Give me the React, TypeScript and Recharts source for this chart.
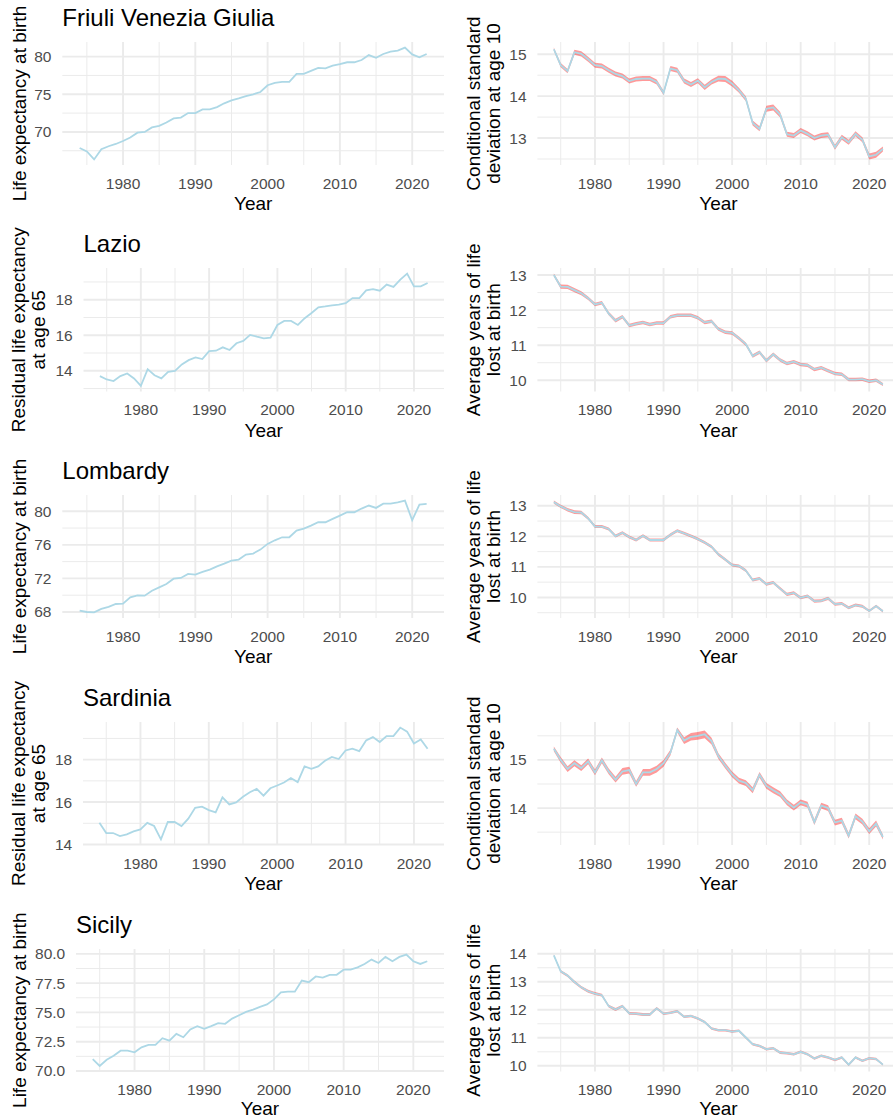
import React from 'react';
import { ComposedChart, Line, Area, XAxis, YAxis, CartesianGrid } from 'recharts';

// Calendar years shared by every panel
const years = [
  1974, 1975, 1976, 1977, 1978, 1979, 1980, 1981, 1982, 1983,
  1984, 1985, 1986, 1987, 1988, 1989, 1990, 1991, 1992, 1993,
  1994, 1995, 1996, 1997, 1998, 1999, 2000, 2001, 2002, 2003,
  2004, 2005, 2006, 2007, 2008, 2009, 2010, 2011, 2012, 2013,
  2014, 2015, 2016, 2017, 2018, 2019, 2020, 2021, 2022,
];

const regionNames = ['Friuli Venezia Giulia', 'Lazio', 'Lombardy', 'Sardinia', 'Sicily'];

// Friuli Venezia Giulia
const friuliLifeExp = [
  67.87, 67.4, 66.35, 67.7, 68.1, 68.4, 68.8, 69.25, 69.9, 70.0,
  70.6, 70.8, 71.25, 71.8, 71.9, 72.5, 72.5, 73.0, 73.0, 73.3,
  73.8, 74.2, 74.45, 74.75, 75.0, 75.3, 76.2, 76.5, 76.65, 76.65,
  77.7, 77.7, 78.1, 78.5, 78.45, 78.8, 79.0, 79.25, 79.25, 79.55,
  80.2, 79.85, 80.35, 80.65, 80.8, 81.2, 80.3, 79.9, 80.35,
];
const friuliCondSd = [
  15.12, 14.74, 14.6, 15.05, 15.01, 14.88, 14.74, 14.72, 14.62, 14.53,
  14.48, 14.36, 14.41, 14.42, 14.42, 14.34, 14.08, 14.66, 14.62, 14.36,
  14.28, 14.37, 14.21, 14.34, 14.42, 14.41, 14.3, 14.14, 13.94, 13.36,
  13.22, 13.7, 13.73, 13.56, 13.09, 13.06, 13.18, 13.1, 13.0, 13.06,
  13.08, 12.78, 13.02, 12.9, 13.1, 12.96, 12.56, 12.6, 12.74,
];
const friuliCondSdHalfWidth = [
  0.04, 0.05, 0.05, 0.06, 0.06, 0.06, 0.06, 0.06, 0.06, 0.06,
  0.06, 0.06, 0.06, 0.06, 0.06, 0.06, 0.05, 0.06, 0.06, 0.06,
  0.06, 0.06, 0.06, 0.06, 0.07, 0.07, 0.07, 0.06, 0.06, 0.06,
  0.06, 0.07, 0.07, 0.07, 0.06, 0.06, 0.06, 0.06, 0.06, 0.06,
  0.06, 0.06, 0.06, 0.06, 0.06, 0.06, 0.07, 0.07, 0.06,
];

// Lazio
const lazioResidual65 = [
  13.7, 13.51, 13.42, 13.7, 13.85, 13.57, 13.15, 14.09, 13.75, 13.57,
  13.94, 14.0, 14.36, 14.6, 14.75, 14.66, 15.11, 15.13, 15.32, 15.17,
  15.55, 15.68, 16.02, 15.92, 15.83, 15.87, 16.58, 16.81, 16.81, 16.58,
  16.96, 17.25, 17.57, 17.62, 17.68, 17.72, 17.81, 18.09, 18.09, 18.53,
  18.6, 18.51, 18.85, 18.72, 19.13, 19.47, 18.75, 18.75, 18.94,
];
const lazioYearsLost = [
  13.0, 12.67, 12.66, 12.57, 12.48, 12.34, 12.16, 12.21, 11.9, 11.7,
  11.81, 11.56, 11.61, 11.65, 11.59, 11.63, 11.63, 11.81, 11.85, 11.85,
  11.85, 11.78, 11.65, 11.68, 11.46, 11.37, 11.35, 11.2, 11.03, 10.69,
  10.8, 10.56, 10.74, 10.58, 10.48, 10.53, 10.45, 10.43, 10.31, 10.36,
  10.27, 10.19, 10.17, 10.02, 10.02, 10.03, 9.97, 10.0, 9.88,
];
const lazioYearsLostHalfWidth = [
  0.04, 0.06, 0.06, 0.06, 0.06, 0.05, 0.05, 0.05, 0.05, 0.05,
  0.05, 0.05, 0.05, 0.05, 0.05, 0.05, 0.05, 0.05, 0.05, 0.05,
  0.05, 0.05, 0.05, 0.05, 0.05, 0.05, 0.05, 0.05, 0.05, 0.05,
  0.05, 0.05, 0.05, 0.05, 0.05, 0.05, 0.05, 0.05, 0.05, 0.05,
  0.05, 0.05, 0.05, 0.05, 0.05, 0.05, 0.05, 0.05, 0.04,
];

// Lombardy
const lombardyLifeExp = [
  68.16, 68.0, 67.95, 68.36, 68.6, 68.95, 69.0, 69.75, 69.99, 69.95,
  70.54, 70.94, 71.34, 71.97, 72.05, 72.53, 72.45, 72.77, 73.05, 73.44,
  73.76, 74.12, 74.24, 74.84, 74.96, 75.43, 76.11, 76.54, 76.9, 76.9,
  77.7, 77.93, 78.29, 78.69, 78.69, 79.09, 79.48, 79.88, 79.88, 80.32,
  80.68, 80.4, 80.91, 80.91, 81.07, 81.27, 78.93, 80.79, 80.87,
];
const lombardyYearsLost = [
  13.12, 12.98, 12.87, 12.79, 12.78, 12.59, 12.32, 12.32, 12.24, 12.01,
  12.12, 11.98, 11.88, 12.02, 11.88, 11.88, 11.88, 12.05, 12.18, 12.1,
  12.01, 11.91, 11.8, 11.66, 11.41, 11.24, 11.06, 11.03, 10.88, 10.57,
  10.62, 10.43, 10.49, 10.29, 10.1, 10.15, 9.99, 10.05, 9.88, 9.89,
  9.97, 9.78, 9.8, 9.66, 9.75, 9.71, 9.56, 9.72, 9.55,
];
const lombardyYearsLostHalfWidth = [
  0.05, 0.05, 0.06, 0.06, 0.06, 0.05, 0.05, 0.05, 0.05, 0.05,
  0.05, 0.05, 0.05, 0.05, 0.05, 0.05, 0.05, 0.05, 0.05, 0.05,
  0.05, 0.05, 0.05, 0.05, 0.05, 0.05, 0.05, 0.05, 0.05, 0.05,
  0.05, 0.05, 0.05, 0.05, 0.05, 0.05, 0.05, 0.05, 0.05, 0.05,
  0.05, 0.05, 0.05, 0.05, 0.05, 0.05, 0.04, 0.04, 0.04,
];

// Sardinia
const sardiniaResidual65 = [
  15.02, 14.54, 14.54, 14.4, 14.48, 14.62, 14.71, 15.02, 14.87, 14.24,
  15.06, 15.06, 14.87, 15.22, 15.73, 15.78, 15.62, 15.51, 16.22, 15.89,
  15.98, 16.25, 16.46, 16.62, 16.3, 16.65, 16.78, 16.92, 17.13, 16.94,
  17.68, 17.57, 17.68, 17.95, 18.13, 18.03, 18.43, 18.52, 18.4, 18.9,
  19.06, 18.83, 19.11, 19.11, 19.51, 19.32, 18.76, 18.95, 18.51,
];
const sardiniaCondSd = [
  15.23, 15.0, 14.81, 14.93, 14.83, 14.97, 14.74, 14.99, 14.76, 14.59,
  14.76, 14.79, 14.5, 14.74, 14.74, 14.81, 14.93, 15.15, 15.62, 15.4,
  15.48, 15.5, 15.53, 15.39, 15.08, 14.88, 14.7, 14.57, 14.52, 14.37,
  14.69, 14.46, 14.37, 14.29, 14.12, 14.01, 14.12, 14.07, 13.71, 14.05,
  14.0, 13.7, 13.74, 13.43, 13.83, 13.72, 13.52, 13.68, 13.4,
];
const sardiniaCondSdHalfWidth = [
  0.05, 0.06, 0.06, 0.06, 0.06, 0.06, 0.06, 0.06, 0.06, 0.06,
  0.07, 0.07, 0.06, 0.07, 0.07, 0.07, 0.07, 0.06, 0.05, 0.07,
  0.08, 0.08, 0.08, 0.07, 0.06, 0.06, 0.06, 0.06, 0.06, 0.06,
  0.06, 0.06, 0.06, 0.06, 0.06, 0.06, 0.06, 0.06, 0.06, 0.06,
  0.06, 0.06, 0.06, 0.06, 0.06, 0.06, 0.06, 0.06, 0.05,
];

// Sicily
const sicilyLifeExp = [
  71.01, 70.43, 70.95, 71.3, 71.73, 71.73, 71.59, 72.02, 72.22, 72.22,
  72.8, 72.59, 73.17, 72.88, 73.54, 73.83, 73.6, 73.83, 74.09, 74.03,
  74.47, 74.76, 75.04, 75.24, 75.48, 75.68, 76.11, 76.71, 76.77, 76.77,
  77.72, 77.58, 78.07, 77.98, 78.21, 78.21, 78.65, 78.65, 78.85, 79.14,
  79.51, 79.22, 79.74, 79.37, 79.74, 79.94, 79.37, 79.14, 79.37,
];
const sicilyYearsLost = [
  13.94, 13.37, 13.22, 12.99, 12.8, 12.66, 12.58, 12.52, 12.13, 12.01,
  12.13, 11.87, 11.86, 11.83, 11.83, 12.05, 11.86, 11.89, 11.95, 11.75,
  11.78, 11.69, 11.56, 11.33, 11.27, 11.27, 11.22, 11.25, 11.01, 10.77,
  10.71, 10.59, 10.63, 10.47, 10.45, 10.41, 10.5, 10.41, 10.26, 10.36,
  10.3, 10.21, 10.3, 10.04, 10.3, 10.18, 10.27, 10.24, 10.04,
];
const sicilyYearsLostHalfWidth = [
  0.03, 0.05, 0.05, 0.05, 0.05, 0.05, 0.05, 0.05, 0.05, 0.05,
  0.05, 0.05, 0.05, 0.05, 0.05, 0.045, 0.045, 0.045, 0.045, 0.045,
  0.045, 0.045, 0.045, 0.045, 0.045, 0.045, 0.045, 0.045, 0.045, 0.045,
  0.045, 0.045, 0.045, 0.045, 0.045, 0.045, 0.045, 0.045, 0.045, 0.045,
  0.045, 0.045, 0.045, 0.045, 0.045, 0.045, 0.045, 0.045, 0.03,
];

// Axis breaks
const xMajor = [1980, 1990, 2000, 2010, 2020];
const xMinor = [1975, 1985, 1995, 2005, 2015];

const FONT = '"Liberation Sans", Arial, sans-serif';
const GRID = '#EBEBEB';
const LINE_BLUE = '#ADD8E6';

type PanelDef = {
  values: number[];
  halfWidth?: number[];
  yMajor: number[];
  yMinor: number[];
  decimals?: number;
  yTitle: string[];
};

const leftPanels: PanelDef[] = [
  { values: friuliLifeExp, yMajor: [70, 75, 80], yMinor: [67.5, 72.5, 77.5, 82.5], yTitle: ['Life expectancy at birth'] },
  { values: lazioResidual65, yMajor: [14, 16, 18], yMinor: [13, 15, 17, 19], yTitle: ['Residual life expectancy', 'at age 65'] },
  { values: lombardyLifeExp, yMajor: [68, 72, 76, 80], yMinor: [70, 74, 78], yTitle: ['Life expectancy at birth'] },
  { values: sardiniaResidual65, yMajor: [14, 16, 18], yMinor: [15, 17, 19], yTitle: ['Residual life expectancy', 'at age 65'] },
  { values: sicilyLifeExp, yMajor: [70, 72.5, 75, 77.5, 80], yMinor: [71.25, 73.75, 76.25, 78.75], decimals: 1, yTitle: ['Life expectancy at birth'] },
];

const rightPanels: PanelDef[] = [
  { values: friuliCondSd, halfWidth: friuliCondSdHalfWidth, yMajor: [13, 14, 15], yMinor: [12.5, 13.5, 14.5], yTitle: ['Conditional standard', 'deviation at age 10'] },
  { values: lazioYearsLost, halfWidth: lazioYearsLostHalfWidth, yMajor: [10, 11, 12, 13], yMinor: [9.5, 10.5, 11.5, 12.5], yTitle: ['Average years of life', 'lost at birth'] },
  { values: lombardyYearsLost, halfWidth: lombardyYearsLostHalfWidth, yMajor: [10, 11, 12, 13], yMinor: [9.5, 10.5, 11.5, 12.5], yTitle: ['Average years of life', 'lost at birth'] },
  { values: sardiniaCondSd, halfWidth: sardiniaCondSdHalfWidth, yMajor: [14, 15], yMinor: [13.5, 14.5, 15.5], yTitle: ['Conditional standard', 'deviation at age 10'] },
  { values: sicilyYearsLost, halfWidth: sicilyYearsLostHalfWidth, yMajor: [10, 11, 12, 13, 14], yMinor: [10.5, 11.5, 12.5, 13.5], yTitle: ['Average years of life', 'lost at birth'] },
];

// Page geometry of the plotting panels
const rowTop = [42, 268, 495, 722, 949];
const rowBottom = [165, 391.5, 618, 845, 1071.5];
const leftPlotLeft = [62.3, 83.5, 62.3, 83, 76];
const LEFT_PLOT_RIGHT = 444;
const RIGHT_COL_X = 446;
const RIGHT_PLOT_LEFT = 537.4;
const RIGHT_PLOT_RIGHT = 899.4;

const X_DOMAIN: [number, number] = [1971.6, 2024.4];
const MARGIN_TOP = 5;
const X_AXIS_H = 32;

const tickStyle = { fontSize: 15.5, fill: '#4D4D4D', fontFamily: FONT };

function Panel({ def, colX, plotLeft, plotRight, top, bottom }: {
  def: PanelDef; colX: number; plotLeft: number; plotRight: number; top: number; bottom: number;
}) {
  const { values, halfWidth, yMajor, yMinor, decimals } = def;
  const lows = values.map((v, i) => v - (halfWidth ? halfWidth[i] : 0));
  const highs = values.map((v, i) => v + (halfWidth ? halfWidth[i] : 0));
  const lo = Math.min(...lows);
  const hi = Math.max(...highs);
  const pad = (hi - lo) * 0.05;
  const domain: [number, number] = [lo - pad, hi + pad];
  const minorInside = yMinor.filter((v) => v > domain[0] && v < domain[1]);
  const data = years.map((year, i) => ({
    year,
    value: values[i],
    band: halfWidth ? [lows[i], highs[i]] : undefined,
  }));
  const width = plotRight - colX + 2;
  const height = MARGIN_TOP + (bottom - top) + X_AXIS_H;
  return (
    <div style={{ position: 'absolute', left: colX, top: top - MARGIN_TOP, width, height }}>
      <ComposedChart width={width} height={height} data={data} margin={{ top: MARGIN_TOP, right: 2, bottom: 0, left: 0 }}>
        <CartesianGrid horizontalValues={minorInside} verticalValues={xMinor} stroke={GRID} strokeWidth={1} />
        <CartesianGrid horizontalValues={yMajor} verticalValues={xMajor} stroke={GRID} strokeWidth={1.9} />
        <XAxis
          type="number"
          dataKey="year"
          domain={X_DOMAIN}
          ticks={xMajor}
          axisLine={false}
          tickLine={false}
          tickSize={0}
          tickMargin={12.5}
          height={X_AXIS_H}
          tick={tickStyle}
          allowDataOverflow
        />
        <YAxis
          type="number"
          domain={domain}
          ticks={yMajor}
          axisLine={false}
          tickLine={false}
          tickSize={0}
          tickMargin={10.8}
          width={plotLeft - colX}
          tick={tickStyle}
          tickFormatter={(v: number) => (decimals ? v.toFixed(decimals) : String(v))}
          allowDataOverflow
        />
        {halfWidth && (
          <Area type="linear" dataKey="band" fill="#FF0000" fillOpacity={0.4} stroke="none" isAnimationActive={false} />
        )}
        <Line type="linear" dataKey="value" stroke={LINE_BLUE} strokeWidth={1.8} dot={false} isAnimationActive={false} />
      </ComposedChart>
    </div>
  );
}

function YTitle({ lines, x, cy, lineGap }: { lines: string[]; x: number; cy: number; lineGap: number }) {
  return (
    <>
      {lines.map((t, i) => {
        const bx = x + i * lineGap;
        return (
          <text key={i} x={bx} y={cy} transform={`rotate(-90 ${bx} ${cy})`} textAnchor="middle" fontSize={19} fill="#000" fontFamily={FONT}>
            {t}
          </text>
        );
      })}
    </>
  );
}

export default function App() {
  return (
    <div style={{ position: 'absolute', left: 0, top: 0, width: 893, height: 1119, overflow: 'hidden', background: '#fff' }}>
      {leftPanels.map((def, r) => (
        <Panel key={`l${r}`} def={def} colX={0} plotLeft={leftPlotLeft[r]} plotRight={LEFT_PLOT_RIGHT} top={rowTop[r]} bottom={rowBottom[r]} />
      ))}
      {rightPanels.map((def, r) => (
        <Panel key={`r${r}`} def={def} colX={RIGHT_COL_X} plotLeft={RIGHT_PLOT_LEFT} plotRight={RIGHT_PLOT_RIGHT} top={rowTop[r]} bottom={rowBottom[r]} />
      ))}
      <svg width={893} height={1119} style={{ position: 'absolute', left: 0, top: 0, pointerEvents: 'none' }}>
        {regionNames.map((name, r) => (
          <text key={`t${r}`} x={leftPlotLeft[r]} y={rowTop[r] - 16} fontSize={24} fill="#000" fontFamily={FONT}>
            {name}
          </text>
        ))}
        {leftPanels.map((def, r) => (
          <YTitle key={`ly${r}`} lines={def.yTitle} x={def.yTitle.length > 1 ? 24.5 : 25.5} cy={(rowTop[r] + rowBottom[r]) / 2} lineGap={20} />
        ))}
        {rightPanels.map((def, r) => (
          <YTitle key={`ry${r}`} lines={def.yTitle} x={480} cy={(rowTop[r] + rowBottom[r]) / 2} lineGap={19.5} />
        ))}
        {rowBottom.map((b, r) => (
          <React.Fragment key={`x${r}`}>
            <text x={(leftPlotLeft[r] + LEFT_PLOT_RIGHT) / 2} y={Math.min(b + 45, 1114.5)} textAnchor="middle" fontSize={19} fill="#000" fontFamily={FONT}>Year</text>
            <text x={(RIGHT_PLOT_LEFT + RIGHT_PLOT_RIGHT) / 2} y={Math.min(b + 45, 1114.5)} textAnchor="middle" fontSize={19} fill="#000" fontFamily={FONT}>Year</text>
          </React.Fragment>
        ))}
      </svg>
    </div>
  );
}
